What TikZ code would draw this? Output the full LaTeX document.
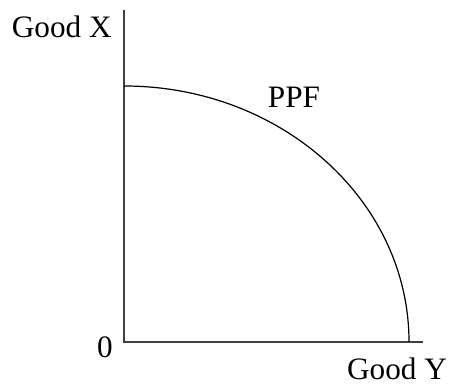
\documentclass[tikz,border=0pt]{standalone}
\usepackage{fontspec}
\setmainfont{Liberation Serif}
\usetikzlibrary{positioning}

\tikzset{
    axis/.style={black!75, line width=0.7pt},
    ppf/.style={black, line width=0.6pt},
    lbl/.style={font=\fontsize{15.6}{18}\selectfont, inner sep=0pt}
}

\begin{document}
\begin{tikzpicture}[x=0.5pt, y=0.5pt]
    \useasboundingbox (0,0) rectangle (450,384);

    \coordinate (O)    at (124,42);
    \coordinate (ytop) at (124,374);
    \coordinate (xend) at (423,42);

    \draw[axis] (ytop) -- (O) -- (xend);

    % production possibility frontier
    \draw[ppf] (124,298) arc[start angle=90, end angle=0, x radius=285, y radius=256];

    \node[lbl, anchor=base east] (goodx) at (112,346) {Good X};
    \node[lbl, anchor=base]      (zero)  at (105,26)  {0};
    \node[lbl, anchor=base]      (goody) at (397,4)   {Good Y};
    \node[lbl, anchor=base]      (ppfl)  at (294,276) {PPF};
\end{tikzpicture}
\end{document}
